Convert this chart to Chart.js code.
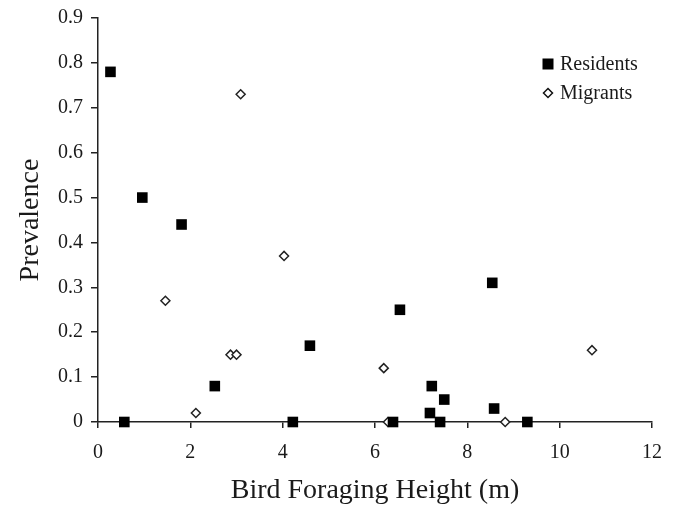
<!DOCTYPE html>
<html>
<head>
<meta charset="utf-8">
<script src="https://cdn.jsdelivr.net/npm/chart.js@4"></script>
<style>
  body { margin: 0; background: #fff; }
  #wrap { width: 675px; height: 510px; }
</style>
</head>
<body>
<div id="wrap"><canvas id="birdChart" width="675" height="510"></canvas></div>
<script>
// Residents: foraging height (m) and prevalence
const residentHeight = [0.27, 0.57, 0.96, 1.81, 2.53, 4.22, 4.59, 6.39, 6.54, 7.19, 7.23, 7.41, 7.50, 8.54, 8.58, 9.30];
const residentPrev   = [0.78, 0.00, 0.50, 0.44, 0.08, 0.00, 0.17, 0.00, 0.25, 0.02, 0.08, 0.00, 0.05, 0.31, 0.03, 0.00];

// Migrants
const migrantHeight = [1.46, 2.12, 2.87, 3.00, 3.09, 4.03, 6.19, 6.28, 8.82, 10.70];
const migrantPrev   = [0.27, 0.02, 0.15, 0.15, 0.73, 0.37, 0.12, 0.00, 0.00, 0.16];

const xTicks = [0, 2, 4, 6, 8, 10, 12];
const yTicks = [0, 0.1, 0.2, 0.3, 0.4, 0.5, 0.6, 0.7, 0.8, 0.9];

const toPoints = (xs, ys) => xs.map((x, i) => ({ x: x, y: ys[i] }));
const serif = "'Liberation Serif', 'DejaVu Serif', serif";

// legend drawn inside the plot, top right
const innerLegend = {
    id: 'innerLegend',
    afterDraw(chart) {
        const ctx = chart.ctx;
        const x0 = 548, rows = [64, 93];
        ctx.save();
        ctx.font = "20px " + serif;
        ctx.textBaseline = 'middle';
        chart.data.datasets.forEach((ds, i) => {
            const y = rows[i];
            ctx.lineWidth = 1.5;
            ctx.strokeStyle = '#111';
            if (ds.pointStyle === 'rect') {
                ctx.fillStyle = '#000';
                ctx.fillRect(x0 - 5.5, y - 5.5, 11, 11);
            } else {
                ctx.fillStyle = '#fff';
                ctx.beginPath();
                ctx.moveTo(x0, y - 4.5);
                ctx.lineTo(x0 + 4.5, y);
                ctx.lineTo(x0, y + 4.5);
                ctx.lineTo(x0 - 4.5, y);
                ctx.closePath();
                ctx.fill();
                ctx.stroke();
            }
            ctx.fillStyle = '#1a1a1a';
            ctx.fillText(ds.label, x0 + 12, y + 1);
        });
        ctx.restore();
    }
};

const ctx = document.getElementById('birdChart').getContext('2d');
new Chart(ctx, {
    type: 'scatter',
    data: {
        datasets: [
            {
                label: 'Residents',
                data: toPoints(residentHeight, residentPrev),
                pointStyle: 'rect',
                pointRadius: 7.5,
                backgroundColor: '#000',
                borderColor: '#000',
                borderWidth: 0
            },
            {
                label: 'Migrants',
                data: toPoints(migrantHeight, migrantPrev),
                pointStyle: 'rectRot',
                pointRadius: 4.5,
                backgroundColor: '#fff',
                borderColor: '#222',
                borderWidth: 1.5
            }
        ]
    },
    options: {
        responsive: false,
        animation: false,
        clip: false,
        layout: { padding: { top: 16, right: 23, left: 0, bottom: 0 } },
        plugins: {
            legend: { display: false },
            tooltip: { enabled: false }
        },
        scales: {
            x: {
                type: 'linear',
                min: 0,
                max: 12,
                afterBuildTicks: s => { s.ticks = xTicks.map(v => ({ value: v })); },
                ticks: {
                    color: '#1a1a1a',
                    font: { family: serif, size: 20 },
                    padding: 13
                },
                grid: { drawOnChartArea: false, drawTicks: true, tickLength: 6, color: '#222', lineWidth: 1.5 },
                border: { color: '#222', width: 1.5 },
                title: {
                    display: true,
                    text: 'Bird Foraging Height (m)',
                    color: '#1a1a1a',
                    font: { family: serif, size: 28 },
                    padding: { top: 0, bottom: 3 }
                },
                afterFit: s => { s.height = 88; }
            },
            y: {
                type: 'linear',
                min: 0,
                max: 0.9,
                afterBuildTicks: s => { s.ticks = yTicks.map(v => ({ value: v })); },
                ticks: {
                    color: '#1a1a1a',
                    font: { family: serif, size: 20, lineHeight: 1 },
                    padding: 8,
                    callback: v => String(+v.toFixed(1))
                },
                grid: { drawOnChartArea: false, drawTicks: true, tickLength: 7, color: '#222', lineWidth: 1.5 },
                border: { color: '#222', width: 1.5 },
                title: {
                    display: true,
                    text: 'Prevalence',
                    color: '#1a1a1a',
                    font: { family: serif, size: 28 },
                    padding: { top: 14, bottom: 0 }
                },
                afterFit: s => { s.width = 98; }
            }
        }
    },
    plugins: [innerLegend]
});
</script>
</body>
</html>
